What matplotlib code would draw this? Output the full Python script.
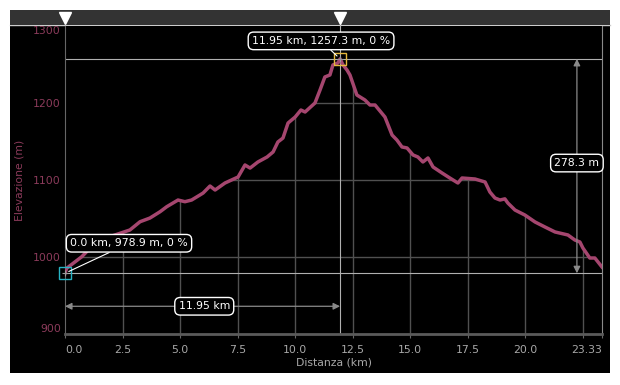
import matplotlib.pyplot as plt
import matplotlib.transforms as mtransforms
from matplotlib.patches import Rectangle, Polygon
from matplotlib.lines import Line2D
import numpy as np

# Elevation profile (km, m)
dist = [0.0, 0.07, 0.73, 1.22, 1.95, 2.82, 3.26, 3.69, 4.13, 4.42, 4.69, 4.91,
        5.21, 5.50, 5.86, 6.00, 6.30, 6.52, 6.95, 7.52, 7.82, 8.04, 8.38, 8.78,
        9.04, 9.25, 9.47, 9.69, 10.00, 10.25, 10.43, 10.86, 11.08, 11.29, 11.51,
        11.64, 11.86, 11.95, 12.08, 12.25, 12.38, 12.68, 13.03, 13.25, 13.47,
        13.90, 14.21, 14.42, 14.64, 14.86, 15.12, 15.33, 15.55, 15.77, 15.99,
        16.38, 16.72, 17.07, 17.25, 17.81, 18.25, 18.46, 18.68, 18.90, 19.11,
        19.24, 19.55, 19.98, 20.42, 20.85, 21.29, 21.85, 22.15, 22.37, 22.50,
        22.80, 23.02, 23.33]
elev = [978.9, 985.3, 1000.4, 1015.6, 1026.4, 1035.1, 1045.8, 1050.6, 1058.8,
        1065.3, 1070.1, 1074.0, 1071.8, 1074.0, 1080.5, 1083.1, 1092.2, 1087.0,
        1096.1, 1103.9, 1119.5, 1115.5, 1123.4, 1129.9, 1136.4, 1149.4, 1154.5,
        1174.0, 1181.8, 1190.9, 1188.3, 1200.0, 1216.9, 1233.8, 1236.4, 1249.4,
        1252.0, 1257.3, 1249.4, 1242.9, 1236.4, 1210.4, 1203.9, 1197.4, 1197.4,
        1181.8, 1158.4, 1151.9, 1142.9, 1141.6, 1132.5, 1129.9, 1123.4, 1128.6,
        1116.9, 1109.1, 1102.6, 1096.1, 1102.6, 1101.3, 1097.4, 1084.4, 1076.6,
        1074.0, 1075.5, 1070.1, 1061.0, 1054.5, 1045.5, 1039.0, 1032.5, 1028.6,
        1022.1, 1019.5, 1011.7, 998.7, 998.7, 987.0]

x_ticks = [0.0, 2.5, 5.0, 7.5, 10.0, 12.5, 15.0, 17.5, 20.0, 22.5, 23.33]
x_tick_labels = ["0.0", "2.5", "5.0", "7.5", "10.0", "12.5", "15.0", "17.5",
                 "20.0", "", "23.33"]
y_ticks = [900, 1000, 1100, 1200, 1300]

start_label = "0.0 km, 978.9 m, 0 %"
peak_label = "11.95 km, 1257.3 m, 0 %"
dx_label = "11.95 km"
dy_label = "278.3 m"

line_col = '#a5466f'
axis_txt = '#8c3b5b'
grey_txt = '#a8a8a8'

fig = plt.figure(figsize=(6.2, 3.85), dpi=100, facecolor='white')
W, H = 620, 385

# black panel and top bar (behind the axes)
fig.patches.append(Rectangle((10 / W, 12 / H), 600 / W, 363 / H,
                             transform=fig.transFigure, fc='black', ec='none', zorder=-2))
fig.patches.append(Rectangle((10 / W, (H - 25) / H), 600 / W, 15 / H,
                             transform=fig.transFigure, fc='#333333', ec='none', zorder=-1))
fig.lines.append(Line2D([10 / W, 610 / W], [(H - 25) / H] * 2, transform=fig.transFigure,
                        color='#cccccc', lw=1, zorder=-1))

ax = fig.add_axes([65 / W, 51 / H, 537 / W, 308 / H])
ax.set_facecolor('black')
ax.set_xlim(0, 23.33)
ax.set_ylim(900, 1300)

# grid lines only under the profile
verts = np.column_stack([dist + [dist[-1], dist[0]], elev + [900, 900]])
clip = Polygon(verts, closed=True, transform=ax.transData, fc='none', ec='none')
ax.add_patch(clip)
vl = ax.vlines(x_ticks[1:-1], 900, 1300, colors='#505050', lw=1, zorder=1)
hl = ax.hlines(y_ticks[1:-1], 0, 23.33, colors='#505050', lw=1, zorder=1)
vl.set_clip_path(clip)
hl.set_clip_path(clip)

# profile line
ax.plot(dist, elev, color=line_col, lw=2.5, zorder=3, solid_joinstyle='round')

i_peak = int(np.argmax(elev))
px, pe = dist[i_peak], elev[i_peak]
sx, se = dist[0], elev[0]

# crosshair lines
ax.axhline(pe, color='#b0b0b0', lw=0.8, zorder=2)
ax.axhline(se, color='#b0b0b0', lw=0.8, zorder=2)
ax.axvline(px, color='#b0b0b0', lw=0.8, zorder=2)

# markers in the top bar
trans = mtransforms.blended_transform_factory(ax.transData, ax.transAxes)
ax.plot([sx, px], [1.026, 1.026], 'v', color='white', ms=8, transform=trans,
        clip_on=False, zorder=6)
ax.plot([px, px], [1.0, 1.02], color='#b0b0b0', lw=0.8, transform=trans, clip_on=False)

# point markers
ax.plot(px, pe, 's', ms=8, mfc='none', mec='#e6b83c', mew=1, zorder=5, clip_on=False)
ax.plot(px, pe, '+', ms=5, color='#999999', mew=0.8, zorder=5)
ax.plot(sx, se, 's', ms=8, mfc='none', mec='#27b3c4', mew=1, zorder=5, clip_on=False)
ax.plot(sx, se, '+', ms=5, color='#999999', mew=0.8, zorder=5, clip_on=False)

box = dict(boxstyle='round,pad=0.35,rounding_size=0.5', fc='black', ec='white', lw=1)
ax.annotate(peak_label, xy=(px, pe), xytext=(-19, 18), textcoords='offset pixels',
            ha='center', va='center', color='white', fontsize=7.8, bbox=box, zorder=7,
            arrowprops=dict(arrowstyle='-', color='white', lw=0.8, shrinkA=0, shrinkB=3))
ax.annotate(start_label, xy=(sx, se), xytext=(64, 30), textcoords='offset pixels',
            ha='center', va='center', color='white', fontsize=7.8, bbox=box, zorder=7,
            arrowprops=dict(arrowstyle='-', color='white', lw=0.8, shrinkA=0, shrinkB=3))

# distance and height dimension arrows
dim_y = 936
ax.annotate('', xy=(sx, dim_y), xytext=(px, dim_y),
            arrowprops=dict(arrowstyle='<|-|>', color='#8a8a8a', lw=0.9,
                            mutation_scale=10, shrinkA=0, shrinkB=0))
ax.text(6.05, dim_y, dx_label, ha='center', va='center', color='white', fontsize=7.8,
        bbox=box, zorder=7)
dim_x = 22.24
ax.annotate('', xy=(dim_x, se), xytext=(dim_x, pe),
            arrowprops=dict(arrowstyle='<|-|>', color='#8a8a8a', lw=0.9,
                            mutation_scale=10, shrinkA=0, shrinkB=0))
ax.text(dim_x, 1122, dy_label, ha='center', va='center', color='white', fontsize=7.8,
        bbox=box, zorder=7)

# axes styling
ax.spines['top'].set_visible(False)
ax.spines['left'].set_color('#666666')
ax.spines['right'].set_color('#8a8a8a')
ax.spines['bottom'].set_color('#5a5a5a')
ax.spines['bottom'].set_linewidth(2)

ax.set_xticks(x_ticks)
ax.set_xticklabels(x_tick_labels)
ax.set_yticks(y_ticks)
ax.set_yticklabels([str(v) for v in y_ticks])
ax.tick_params(axis='x', colors='#666666', labelcolor=grey_txt, labelsize=7.8,
               length=3, pad=5)
ax.tick_params(axis='y', colors='#666666', labelcolor=axis_txt, labelsize=7.8,
               length=0, pad=3)
xl = ax.get_xticklabels()
xl[0].set_horizontalalignment('left')
xl[-1].set_horizontalalignment('right')
yl = ax.get_yticklabels()
yl[0].set_verticalalignment('bottom')
yl[-1].set_verticalalignment('top')

ax.set_xlabel("Distanza (km)", color=grey_txt, fontsize=7.8, labelpad=2)
ax.set_ylabel("Elevazione (m)", color=axis_txt, fontsize=7.8, labelpad=6)

fig.savefig("out.png", dpi=100, facecolor=fig.get_facecolor())
